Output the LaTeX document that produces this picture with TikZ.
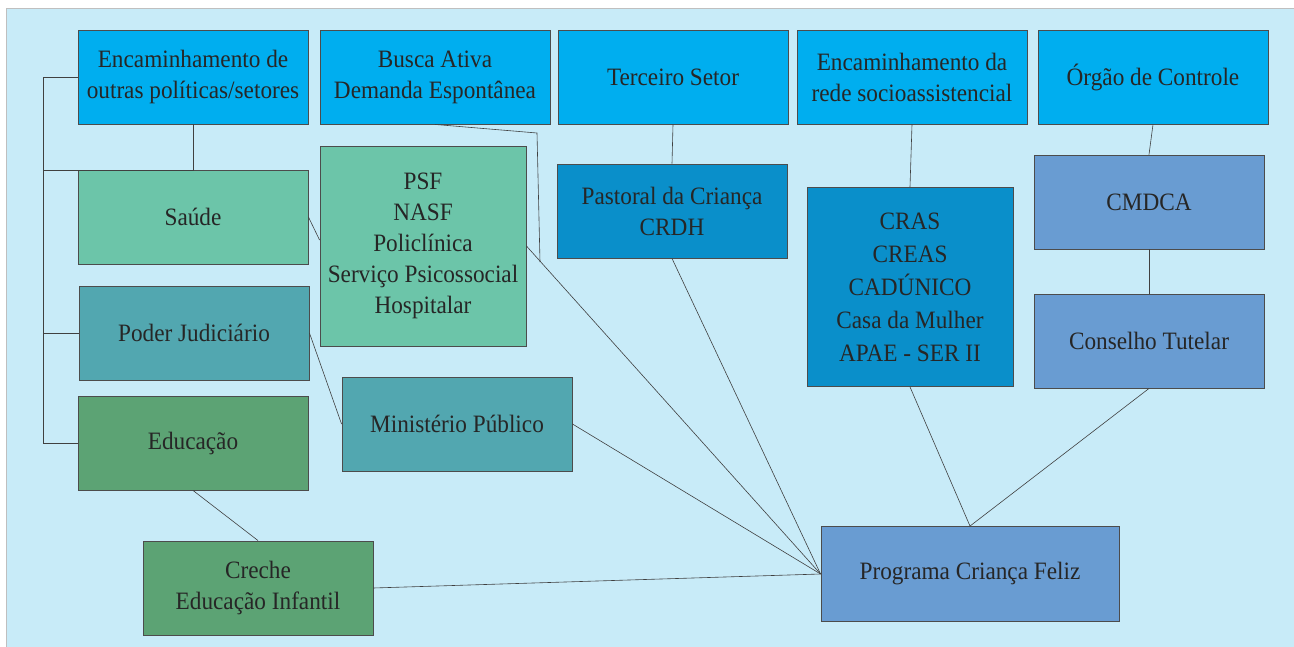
\documentclass[tikz,border=0pt]{standalone}
\usepackage{fontspec}
\setmainfont[FakeStretch=0.93]{Liberation Serif}
\usetikzlibrary{positioning}
\definecolor{fundo}{HTML}{C8EBF8}
\definecolor{ciano}{HTML}{00AEEF}
\definecolor{verdeclaro}{HTML}{6CC5A9}
\definecolor{petroleo}{HTML}{52A7B0}
\definecolor{verde}{HTML}{5CA374}
\definecolor{azulescuro}{HTML}{0A8FCA}
\definecolor{lavanda}{HTML}{699CD2}

\begin{document}
\begin{tikzpicture}
[
x=1pt, y=-1pt,
every edge/.style={draw=black!75, line width=0.6pt},
every node/.style={font=\fontsize{25}{31}\selectfont, text=black!85, align=center}
]
\tikzset{caixa/.style={draw=black!70, line width=0.9pt, minimum width=230pt, minimum height=94pt, inner sep=2pt}}
\tikzset{linha/.style={draw=black!75, line width=0.6pt}}
\useasboundingbox (0,0) rectangle (1294,647);
\fill[white] (0,0) rectangle (1294,647);
\draw[fill=fundo, draw=black!25, line width=0.8pt] (6,8) rectangle (1300,652);

\node[caixa, fill=ciano] (outras) at (193,77) {Encaminhamento de\\outras políticas/setores};
\node[caixa, fill=ciano] (busca) at (435,77) {Busca Ativa\\Demanda Espontânea};
\node[caixa, fill=ciano] (terceiro) at (673,77) {Terceiro Setor};
\node[caixa, fill=ciano] (rede) at (912,77) {Encaminhamento da\\rede socioassistencial};
\node[caixa, fill=ciano] (orgao) at (1153,77) {Órgão de Controle};

\node[caixa, fill=verdeclaro] (saude) at (193,217) {Saúde};
\node[caixa, fill=verdeclaro, minimum width=206pt, minimum height=200pt] (psf) at (423,246) {PSF\\NASF\\Policlínica\\Serviço Psicossocial\\Hospitalar};
\node[caixa, fill=petroleo] (poder) at (194,333) {Poder Judiciário};
\node[caixa, fill=petroleo] (ministerio) at (457,424) {Ministério Público};
\node[caixa, fill=verde] (educacao) at (193,443) {Educação};
\node[caixa, fill=verde] (creche) at (258,588) {Creche\\Educação Infantil};

\node[caixa, fill=azulescuro] (pastoral) at (672,211) {Pastoral da Criança\\CRDH};
\node[caixa, fill=azulescuro, minimum width=206pt, minimum height=199pt, font=\fontsize{25}{33}\selectfont] (cras) at (910,287) {CRAS\\CREAS\\CADÚNICO\\Casa da Mulher\\APAE - SER II};
\node[caixa, fill=lavanda] (cmdca) at (1149,202) {CMDCA};
\node[caixa, fill=lavanda] (conselho) at (1149,341) {Conselho Tutelar};
\node[caixa, fill=lavanda, minimum width=298pt, minimum height=95pt] (programa) at (970,574) {Programa Criança Feliz};

\coordinate (barra) at (43,170);
\coordinate (dobra1) at (537,133);
\coordinate (dobra2) at (540,262);

\draw[linha] (outras.south) |- (barra);
\draw[linha] (outras.west) -- (outras.west -| barra) |- (educacao.west);
\draw[linha] (barra |- poder.west) -- (poder.west);
\draw[linha] (busca.south) -- (dobra1) -- (dobra2);

\path
(saude.east)            edge ([yshift=6pt] psf.west)
(poder.east)            edge (ministerio.west)
(educacao.south)        edge (creche.north)
(psf.east)              edge (programa.west)
(ministerio.east)       edge (programa.west)
(creche.east)           edge (programa.west)
(terceiro.south)        edge (pastoral.north)
(pastoral.south)        edge (programa.west)
(rede.south)            edge (cras.north)
(cras.south)            edge (programa.north)
(orgao.south)           edge (cmdca.north)
(cmdca.south)           edge (conselho.north)
(conselho.south)        edge (programa.north);
\end{tikzpicture}
\end{document}
